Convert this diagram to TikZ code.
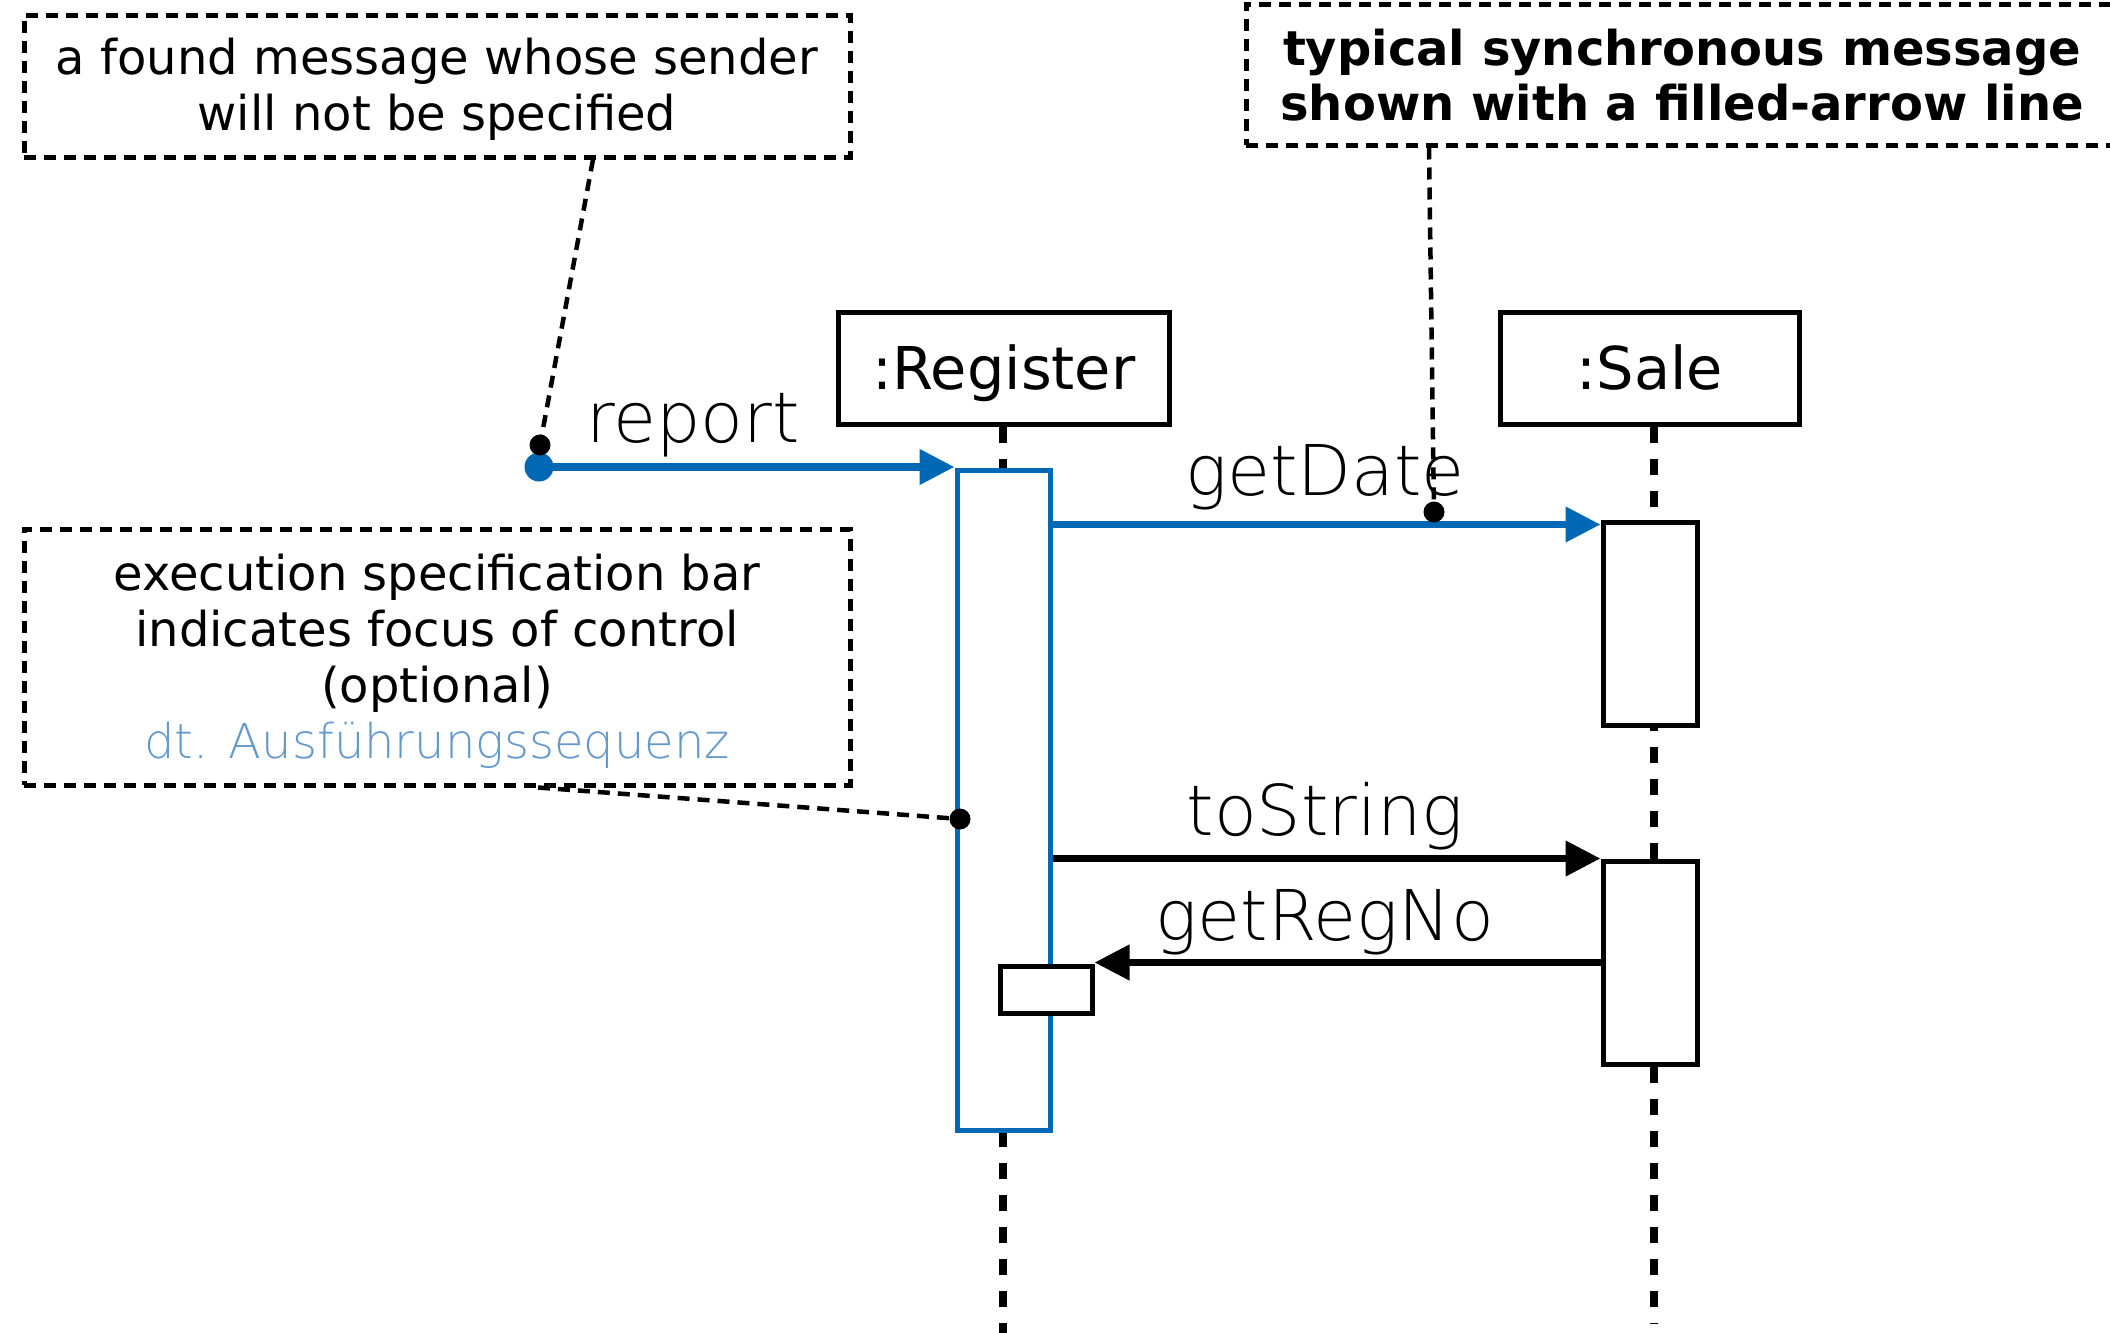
\documentclass[tikz,border=0pt]{standalone}
\usepackage{fontspec}
\setmainfont{DejaVu Sans}
\newfontfamily\thinfont{DejaVu Sans ExtraLight}
\usetikzlibrary{arrows.meta}
\definecolor{umlblue}{RGB}{0,104,180}
\definecolor{germanblue}{RGB}{102,153,204}

\begin{document}
\begin{tikzpicture}[x=1pt,y=-1pt,
  headbox/.style={draw, line width=5pt, fill=white, inner sep=0pt,
    text height=48pt, text depth=6pt, font=\fontsize{59}{70}\selectfont},
  lifeline/.style={line width=8pt, dash pattern=on 16pt off 16pt},
  actbar/.style={draw, line width=5pt, fill=white, inner sep=0pt},
  focusbar/.style={actbar, draw=umlblue},
  msg/.style={line width=7.5pt, -{Triangle[length=35pt,width=34pt]}},
  bluemsg/.style={msg, draw=umlblue, fill=umlblue},
  notebox/.style={draw, line width=5pt, dash pattern=on 12pt off 8pt, fill=white, inner sep=0pt},
  notetext/.style={anchor=base, inner sep=0pt, font=\fontsize{48}{57}\selectfont},
  callout/.style={line width=4.5pt, dash pattern=on 12pt off 8pt},
  pindot/.style={circle, fill=black, inner sep=0pt, minimum size=21pt},
  msglabel/.style={anchor=base, inner sep=0pt, font=\thinfont\fontsize{70}{82}\selectfont}]

\path[use as bounding box] (0,0) rectangle (2110,1333);
\clip (0,0) rectangle (2110,1333);

% participants
\node[headbox, minimum width=331pt, minimum height=112pt] (reg) at (1004,368) {:Register};
\node[headbox, minimum width=299pt, minimum height=112pt] (sale) at (1650,368) {:Sale};

% lifelines
\coordinate (regend) at (1003,1340);
\coordinate (saleend) at (1654,1323);
\draw[lifeline] (reg.south -| regend) -- (regend);
\draw[lifeline] (sale.south -| saleend) -- (saleend);

% execution specification bars
\node[focusbar, minimum width=93pt, minimum height=660pt] (regbar) at (1003.5,800) {};
\node[actbar, minimum width=92pt, minimum height=47pt] (regself) at (1046,989.5) {};
\node[actbar, minimum width=94pt, minimum height=203pt] (salebar1) at (1650,623.5) {};
\node[actbar, minimum width=94pt, minimum height=203pt] (salebar2) at (1650,962.5) {};

% found message
\node[circle, fill=umlblue, inner sep=0pt, minimum size=29pt] (found) at (539,467) {};
\draw[bluemsg] (found.center) -- (found.center -| regbar.north west);
\node[msglabel] (lreport) at (693,442) {report};

% synchronous messages
\coordinate (gdtip) at ([yshift=-5pt]salebar1.north west);
\draw[bluemsg] (regbar.east |- gdtip) -- (gdtip);
\node[msglabel] (lgetdate) at (1325,495) {getDate};

\draw[msg] (regbar.east |- salebar2.north west) -- (salebar2.north west);
\node[msglabel] (ltostring) at (1325,835) {toString};

\draw[msg] (salebar2.west) -- (salebar2.west -| regself.east);
\node[msglabel] (lgetregno) at (1325,940) {getRegNo};

% notes
\node[notebox, minimum width=826pt, minimum height=142pt] (note1) at (437,86) {};
\node[notetext] (n1a) at (437,74) {a found message whose sender};
\node[notetext] (n1b) at (437,130) {will not be specified};

\node[notebox, minimum width=872pt, minimum height=141pt] (note2) at (1682,74.5) {};
\node[notetext, font=\fontsize{48}{57}\selectfont\bfseries] (n2a) at (1682,65) {typical synchronous message};
\node[notetext, font=\fontsize{48}{57}\selectfont\bfseries] (n2b) at (1682,120) {shown with a filled-arrow line};

\node[notebox, minimum width=826pt, minimum height=256pt] (note3) at (437,657) {};
\node[notetext] (n3a) at (437,590) {execution specification bar};
\node[notetext] (n3b) at (437,646) {indicates focus of control};
\node[notetext] (n3c) at (437,702) {(optional)};
\node[notetext, text=germanblue, font=\thinfont\fontsize{48}{57}\selectfont] (n3d) at (437,758) {dt. Ausführungssequenz};

% note anchors
\node[pindot] (dot1) at (540,445) {};
\node[pindot] (dot2) at (1434,512) {};
\node[pindot] (dot3) at (960,819) {};
\draw[callout] ([xshift=156pt]note1.south) -- (dot1.center);
\draw[callout] ([xshift=-253pt]note2.south) -- (dot2.center);
\draw[callout] ([xshift=101pt]note3.south) -- (dot3.center);
\end{tikzpicture}
\end{document}
